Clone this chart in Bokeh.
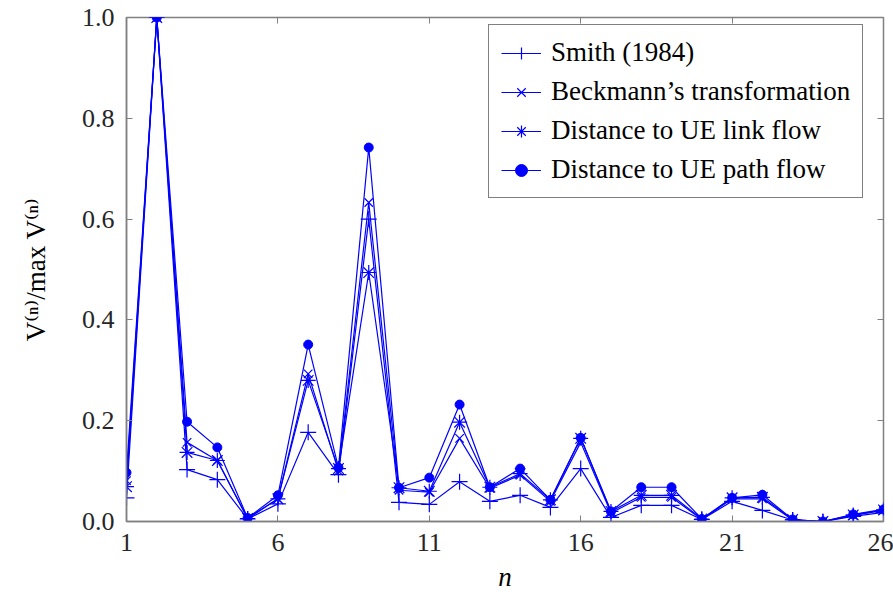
from bokeh.plotting import figure
from bokeh.models import LinearAxis, FixedTicker, Range1d, Legend, LegendItem, NumeralTickFormatter
from bokeh.embed import file_html
from bokeh.resources import INLINE

n = list(range(1, 27))
smith = [0.047, 1.0, 0.103, 0.083, 0.005, 0.035, 0.177, 0.093, 0.600, 0.038, 0.034, 0.079, 0.040,
         0.052, 0.028, 0.105, 0.008, 0.032, 0.032, 0.004, 0.040, 0.022, 0.003, 0.0, 0.010, 0.018]
beckmann = [0.081, 1.0, 0.157, 0.121, 0.006, 0.045, 0.293, 0.100, 0.633, 0.062, 0.058, 0.165, 0.066,
            0.092, 0.040, 0.157, 0.017, 0.048, 0.048, 0.004, 0.045, 0.045, 0.003, 0.0, 0.012, 0.022]
link_flow = [0.069, 1.0, 0.137, 0.121, 0.006, 0.045, 0.280, 0.105, 0.494, 0.067, 0.060, 0.197, 0.068,
             0.095, 0.043, 0.165, 0.020, 0.052, 0.052, 0.005, 0.047, 0.048, 0.004, 0.0, 0.013, 0.023]
path_flow = [0.097, 1.0, 0.198, 0.147, 0.007, 0.052, 0.351, 0.107, 0.742, 0.067, 0.087, 0.232, 0.068,
             0.105, 0.043, 0.166, 0.020, 0.068, 0.068, 0.005, 0.047, 0.053, 0.004, 0.0, 0.014, 0.024]
labels = ["Smith (1984)", "Beckmann\u2019s transformation", "Distance to UE link flow", "Distance to UE path flow"]
x_ticks = [1, 6, 11, 16, 21, 26]
y_ticks = [0.0, 0.2, 0.4, 0.6, 0.8, 1.0]

FONT = "Times New Roman, Liberation Serif, Times, DejaVu Serif, serif"
BLUE = "#0000ff"
AX = "#808080"

p = figure(width=893, height=603, output_backend="svg", toolbar_location=None,
           x_range=Range1d(1, 26), y_range=Range1d(0, 1.0),
           min_border_left=126, min_border_right=10, min_border_top=17, min_border_bottom=82)
p.grid.visible = False
p.outline_line_color = AX
p.outline_line_width = 1.5
p.background_fill_color = "white"
p.border_fill_color = "white"

for ax in p.xaxis + p.yaxis:
    ax.major_tick_in = 6
    ax.major_tick_out = 0
    ax.minor_tick_line_color = None
    ax.axis_line_color = AX
    ax.axis_line_width = 1.5
    ax.major_tick_line_color = AX
    ax.major_label_text_font = FONT
    ax.major_label_text_font_size = "26px"
    ax.major_label_text_color = "#262626"
    ax.axis_label_text_font = FONT
    ax.axis_label_text_font_size = "27px"
    ax.axis_label_text_color = "#000000"

p.xaxis.ticker = FixedTicker(ticks=x_ticks)
p.yaxis.ticker = FixedTicker(ticks=y_ticks)
p.yaxis.formatter = NumeralTickFormatter(format="0.0")
p.xaxis.major_label_standoff = 12
p.yaxis.major_label_standoff = 12
p.xaxis.axis_label = "n"
p.xaxis.axis_label_text_font_style = "italic"
p.xaxis.axis_label_standoff = 8
p.yaxis.axis_label = "V\u207d\u207f\u207e/max V\u207d\u207f\u207e"
p.yaxis.axis_label_text_font_style = "normal"
p.yaxis.axis_label_standoff = 28

top = LinearAxis(ticker=FixedTicker(ticks=x_ticks), major_label_text_font_size="0px",
                 major_tick_in=6, major_tick_out=0, minor_tick_line_color=None,
                 axis_line_color=None, major_tick_line_color=AX, major_label_standoff=0)
right = LinearAxis(ticker=FixedTicker(ticks=y_ticks), major_label_text_font_size="0px",
                   major_tick_in=6, major_tick_out=0, minor_tick_line_color=None,
                   axis_line_color=None, major_tick_line_color=AX, major_label_standoff=0)
p.add_layout(top, "above")
p.add_layout(right, "right")

series = [smith, beckmann, link_flow, path_flow]
items = []
for i, ys in enumerate(series):
    ln = p.line(n, ys, line_color=BLUE, line_width=1.2)
    if i == 0:
        mk = p.scatter(n, ys, marker="cross", size=16, line_color=BLUE, line_width=1.2)
    elif i == 1:
        mk = p.scatter(n, ys, marker="x", size=12, line_color=BLUE, line_width=1.2)
    elif i == 2:
        mk = p.scatter(n, ys, marker="asterisk", size=15, line_color=BLUE, line_width=1.2)
    else:
        mk = p.scatter(n, ys, marker="circle", size=9, line_color=BLUE, fill_color=BLUE)
    items.append(LegendItem(label=labels[i], renderers=[ln, mk]))

legend = Legend(items=items, location=(362, 323),
                label_text_font=FONT, label_text_font_size="27px", label_text_color="#000000",
                border_line_color="#000000", border_line_width=1.2,
                glyph_width=40, glyph_height=30, label_height=30, spacing=8,
                padding=12, label_standoff=10)
p.add_layout(legend)

open("out.html", "w").write(file_html(p, INLINE))
